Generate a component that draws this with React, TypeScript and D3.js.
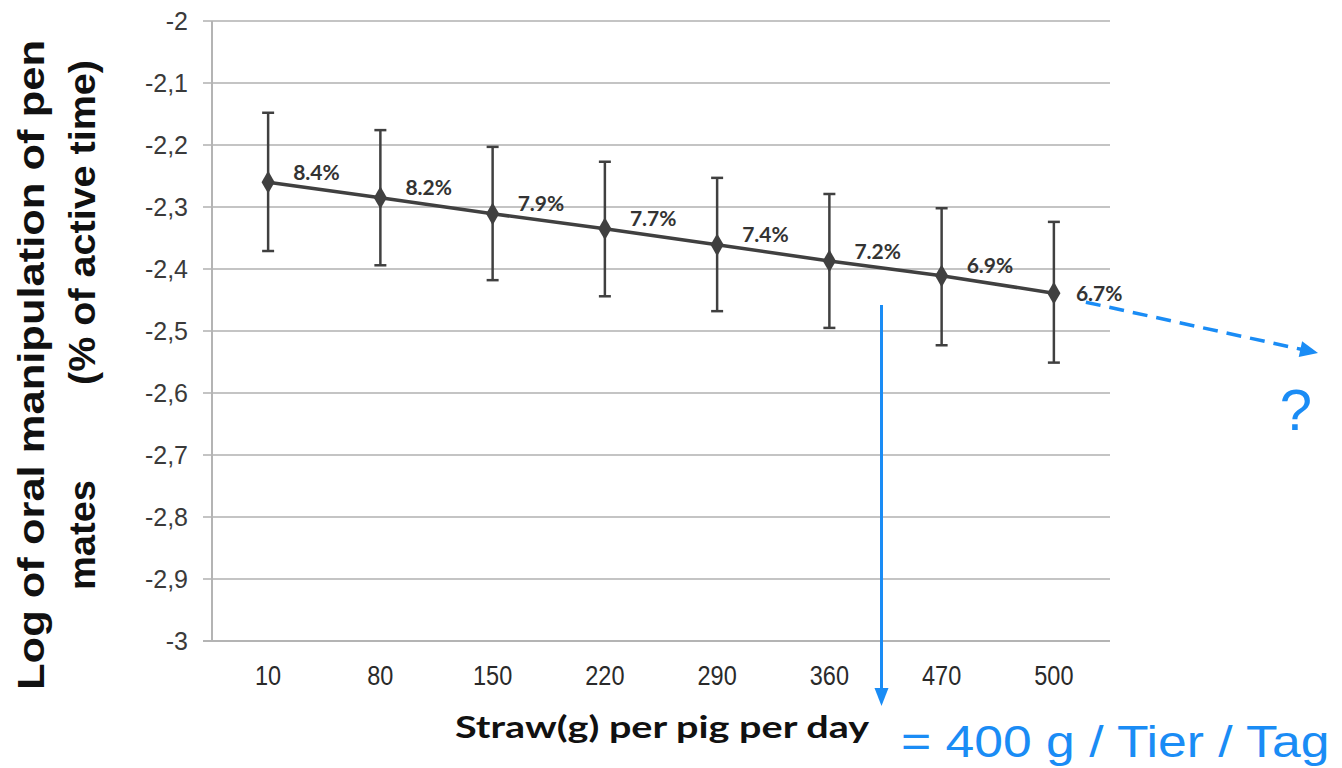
import React from 'react'
import * as d3 from 'd3'

// straw amount per pig per day (g)
const categories = ['10', '80', '150', '220', '290', '360', '470', '500']
// log of oral manipulation of pen mates
const means = [-2.26, -2.285, -2.311, -2.335, -2.361, -2.387, -2.411, -2.439]
const upper = [-2.148, -2.176, -2.203, -2.227, -2.253, -2.279, -2.302, -2.324]
const lower = [-2.371, -2.394, -2.418, -2.444, -2.468, -2.495, -2.523, -2.551]
const pctLabels = ['8.4%', '8.2%', '7.9%', '7.7%', '7.4%', '7.2%', '6.9%', '6.7%']
const yTicks = [-2, -2.1, -2.2, -2.3, -2.4, -2.5, -2.6, -2.7, -2.8, -2.9, -3]

const W = 1342
const H = 768
const left = 212
const right = 1110
const top = 21
const bottom = 641
const blue = '#1a8cf5'
const dark = '#404040'

const fmt = (v: number) => String(v).replace('.', ',')

export default function App() {
  const x = d3.scaleBand<string>().domain(categories).range([left, right]).padding(0)
  const y = d3.scaleLinear().domain([-3, -2]).range([bottom, top])
  const cx = (c: string) => (x(c) as number) + x.bandwidth() / 2

  const line = d3
    .line<number>()
    .x((_, i) => cx(categories[i]))
    .y(d => y(d))

  const diamond = d3.symbol().type(d3.symbolDiamond).size(150)

  // annotation: 400 g sits between the 360 and 470 columns
  const annX = (cx('360') + cx('470')) / 2 - 4
  const last = categories.length - 1
  const dashStart: [number, number] = [cx(categories[last]) + 32, y(means[last]) + 9]
  const dashEnd: [number, number] = [1318, 353]
  const ang = Math.atan2(dashEnd[1] - dashStart[1], dashEnd[0] - dashStart[0])

  return (
    <svg width={W} height={H} style={{ position: 'absolute', left: 0, top: 0, background: '#fff' }}>
      {/* grid */}
      {yTicks.map(t => (
        <line key={t} x1={left - 9} x2={right} y1={y(t)} y2={y(t)} stroke="#c4c4c4" strokeWidth={2} />
      ))}
      <line x1={left} x2={left} y1={top} y2={bottom} stroke="#b4b4b4" strokeWidth={2} />
      <line x1={left - 9} x2={right} y1={bottom} y2={bottom} stroke="#b4b4b4" strokeWidth={2} />

      {/* y tick labels */}
      {yTicks.map(t => (
        <text
          key={'l' + t}
          x={188}
          y={y(t)}
          dy="0.36em"
          textAnchor="end"
          fontFamily="Liberation Sans, Arial, sans-serif"
          fontSize={25}
          fill="#3a3a3a"
        >
          {fmt(t)}
        </text>
      ))}

      {/* x tick labels (narrow look) */}
      {categories.map(c => (
        <text
          key={'x' + c}
          transform={`translate(${cx(c)},685) scale(0.84,1)`}
          textAnchor="middle"
          fontFamily="Liberation Sans, Arial, sans-serif"
          fontSize={28}
          fill="#2a2a2a"
        >
          {c}
        </text>
      ))}

      {/* error bars */}
      {categories.map((c, i) => (
        <g key={'e' + c} stroke={dark} strokeWidth={2.5}>
          <line x1={cx(c)} x2={cx(c)} y1={y(upper[i])} y2={y(lower[i])} />
          <line x1={cx(c) - 6} x2={cx(c) + 6} y1={y(upper[i])} y2={y(upper[i])} />
          <line x1={cx(c) - 6} x2={cx(c) + 6} y1={y(lower[i])} y2={y(lower[i])} />
        </g>
      ))}

      {/* series line */}
      <path d={line(means) || ''} fill="none" stroke={dark} strokeWidth={3.5} />
      {means.map((m, i) => (
        <path key={'m' + i} d={diamond() || ''} transform={`translate(${cx(categories[i])},${y(m)})`} fill={dark} />
      ))}

      {/* data labels */}
      {pctLabels.map((p, i) => (
        <text
          key={'p' + i}
          x={cx(categories[i]) + (i === last ? 22 : 25)}
          y={y(means[i]) + (i === last ? 0 : -10)}
          dy="0.36em"
          fontFamily="Lato, Open Sans, sans-serif"
          fontWeight="bold"
          fontSize={21}
          fill="#333"
        >
          {p}
        </text>
      ))}

      {/* axis titles */}
      <text
        x={662}
        y={738}
        textAnchor="middle"
        fontFamily="Lato, Open Sans, sans-serif"
        fontWeight="bold"
        fontSize={30}
        textLength={414}
        lengthAdjust="spacingAndGlyphs"
        fill="#111"
      >
        Straw(g) per pig per day
      </text>
      <g fontFamily="Liberation Sans, Arial, sans-serif" fontWeight="bold" fontSize={36} fill="#111">
        <text transform="translate(44,690) rotate(-90)" textLength={650} lengthAdjust="spacingAndGlyphs">
          Log of oral manipulation of pen
        </text>
        <text transform="translate(95,590) rotate(-90)" textLength={110} lengthAdjust="spacingAndGlyphs">
          mates
        </text>
        <text transform="translate(95,385) rotate(-90)" textLength={325} lengthAdjust="spacingAndGlyphs">
          (% of active time)
        </text>
      </g>

      {/* annotations */}
      <line x1={annX} x2={annX} y1={305} y2={690} stroke={blue} strokeWidth={3} />
      <path d={`M${annX - 7},688 L${annX + 7},688 L${annX},706 Z`} fill={blue} />

      <line
        x1={dashStart[0]}
        y1={dashStart[1]}
        x2={dashEnd[0] - 16 * Math.cos(ang)}
        y2={dashEnd[1] - 16 * Math.sin(ang)}
        stroke={blue}
        strokeWidth={3.5}
        strokeDasharray="15 9"
      />
      <path
        d="M0,0 L-18,-8 L-18,8 Z"
        transform={`translate(${dashEnd[0]},${dashEnd[1]}) rotate(${(ang * 180) / Math.PI})`}
        fill={blue}
      />

      <text x={1296} y={430} textAnchor="middle" fontFamily="Liberation Sans, Arial, sans-serif" fontSize={58} fill={blue}>
        ?
      </text>
      <text
        transform="translate(901,757) scale(0.9,1)"
        fontFamily="Liberation Sans, Arial, sans-serif"
        fontSize={44}
        textLength={476}
        lengthAdjust="spacingAndGlyphs"
        fill={blue}
      >
        = 400 g / Tier / Tag
      </text>
    </svg>
  )
}
